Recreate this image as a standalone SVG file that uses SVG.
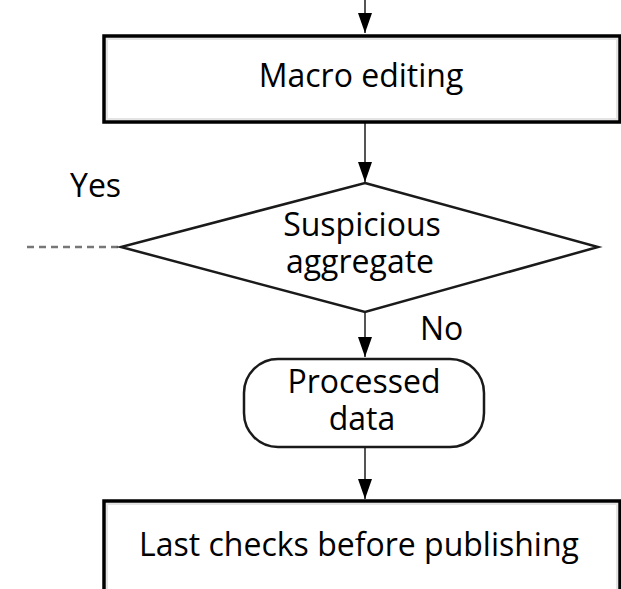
<svg xmlns="http://www.w3.org/2000/svg" width="621" height="589" viewBox="0 0 621 589">
<defs>
<marker id="ah" markerUnits="userSpaceOnUse" markerWidth="16" markerHeight="22" viewBox="0 0 16 22" refX="8" refY="21" orient="auto-start-reverse">
<path d="M1,1 L15,1 L8,21 Z" fill="#000" transform="rotate(0)"/>
</marker>
<marker id="ah2" markerUnits="userSpaceOnUse" markerWidth="22" markerHeight="16" viewBox="0 0 22 16" refX="21" refY="8" orient="auto">
<path d="M1,1 L21,8 L1,15 Z" fill="#000"/>
</marker>
<style>
.box{fill:#fff;stroke:#000;stroke-width:3.5}
.inner{fill:none;stroke:#e4e4e4;stroke-width:2}
.shape{fill:#fff;stroke:#1a1a1a;stroke-width:2.5}
.conn{stroke:#555;stroke-width:2;fill:none}
.dash{stroke:#777;stroke-width:2.5;stroke-dasharray:7,5;fill:none}
text{font-family:"Open Sans","Liberation Sans",sans-serif;font-size:32px;fill:#000}
.c{text-anchor:middle}
</style>
</defs>
<rect width="621" height="589" fill="#fff"/>
<g id="connectors">
<line class="conn" x1="365" y1="0" x2="365" y2="33" marker-end="url(#ah2)"/>
<line class="conn" x1="365" y1="123" x2="365" y2="182" marker-end="url(#ah2)"/>
<line class="conn" x1="365" y1="313" x2="365" y2="357" marker-end="url(#ah2)"/>
<line class="conn" x1="365" y1="448" x2="365" y2="499" marker-end="url(#ah2)"/>
<line class="dash" x1="27" y1="247" x2="121" y2="247"/>
</g>
<g id="macro-editing">
<rect class="box" x="104" y="36" width="516" height="86"/>
<rect class="inner" x="107" y="39" width="510" height="80"/>
<text class="c" x="361" y="87">Macro editing</text>
</g>
<g id="suspicious-aggregate">
<polygon class="shape" points="365,183 598,247 365,312 121,247"/>
<text class="c" x="362" y="236">Suspicious</text>
<text class="c" x="360" y="273">aggregate</text>
</g>
<g id="label-yes"><text x="70" y="197">Yes</text></g>
<g id="label-no"><text x="420" y="340">No</text></g>
<g id="processed-data">
<rect class="shape" x="244" y="359" width="240" height="88" rx="34" ry="34"/>
<text class="c" x="364" y="393">Processed</text>
<text class="c" x="362" y="430">data</text>
</g>
<g id="last-checks">
<rect class="box" x="104" y="501" width="516" height="100"/>
<rect class="inner" x="107" y="504" width="510" height="94"/>
<text class="c" x="359" y="556">Last checks before publishing</text>
</g>
</svg>
